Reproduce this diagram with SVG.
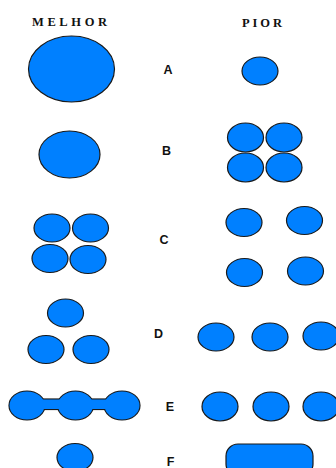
<svg xmlns="http://www.w3.org/2000/svg" width="336" height="468" viewBox="0 0 336 468">
<style>
.s{fill:#0080ff;stroke:#1a1a1a;stroke-width:1.2}
.o{fill:#0080ff;stroke:#1a1a1a;stroke-width:2.2}
.f{fill:#0080ff;stroke:none}
.h{font-family:"Liberation Serif",serif;font-weight:bold;font-size:12.5px;fill:#111}
.l{font-family:"Liberation Sans",Arial,sans-serif;font-weight:bold;font-size:12.5px;fill:#111;text-anchor:middle}
</style>
<rect width="336" height="468" fill="#fff"/>
<g id="headers">
<text class="h" x="32" y="26" textLength="75" lengthAdjust="spacing">MELHOR</text>
<text class="h" x="242" y="27" textLength="40" lengthAdjust="spacing">PIOR</text>
</g>
<g id="labels">
<text class="l" x="168" y="74">A</text>
<text class="l" x="166.5" y="155">B</text>
<text class="l" x="164" y="244">C</text>
<text class="l" x="158.5" y="338">D</text>
<text class="l" x="170" y="411">E</text>
<text class="l" x="170.5" y="466">F</text>
</g>
<g id="rowA">
<ellipse class="s" cx="71.5" cy="69" rx="43" ry="33"/>
<ellipse class="s" cx="260" cy="71" rx="18" ry="14"/>
</g>
<g id="rowB">
<ellipse class="s" cx="69.5" cy="154.5" rx="30.5" ry="23.5"/>
<ellipse class="s" cx="245.5" cy="137.5" rx="18" ry="14.5"/>
<ellipse class="s" cx="284" cy="137.5" rx="18" ry="14.5"/>
<ellipse class="s" cx="245.5" cy="167.5" rx="18" ry="14.5"/>
<ellipse class="s" cx="284" cy="167.5" rx="18" ry="14.5"/>
</g>
<g id="rowC">
<ellipse class="s" cx="52" cy="228" rx="18" ry="14"/>
<ellipse class="s" cx="90.5" cy="228" rx="18" ry="14"/>
<ellipse class="s" cx="50" cy="258.5" rx="18" ry="14"/>
<ellipse class="s" cx="88" cy="259.5" rx="18" ry="14"/>
<ellipse class="s" cx="244" cy="222.5" rx="18" ry="14"/>
<ellipse class="s" cx="304.5" cy="220.5" rx="18" ry="14"/>
<ellipse class="s" cx="244.5" cy="272.5" rx="18" ry="14"/>
<ellipse class="s" cx="305.5" cy="271" rx="18" ry="14"/>
</g>
<g id="rowD">
<ellipse class="s" cx="65.5" cy="313" rx="18" ry="14"/>
<ellipse class="s" cx="46" cy="349.5" rx="18" ry="14"/>
<ellipse class="s" cx="91" cy="349.5" rx="18" ry="14"/>
<ellipse class="s" cx="216" cy="337" rx="18" ry="14"/>
<ellipse class="s" cx="270" cy="337" rx="18" ry="14"/>
<ellipse class="s" cx="321" cy="336" rx="18" ry="14"/>
</g>
<g id="rowE">
<g id="dumbbell">
<ellipse class="o" cx="27" cy="405.5" rx="17.5" ry="14"/>
<ellipse class="o" cx="75.5" cy="405.5" rx="17.5" ry="14"/>
<ellipse class="o" cx="122" cy="405.5" rx="17.5" ry="14"/>
<rect class="o" x="40" y="399.5" width="22" height="9.5"/>
<rect class="o" x="88" y="399.5" width="22" height="9.5"/>
<ellipse class="f" cx="27" cy="405.5" rx="17.5" ry="14"/>
<ellipse class="f" cx="75.5" cy="405.5" rx="17.5" ry="14"/>
<ellipse class="f" cx="122" cy="405.5" rx="17.5" ry="14"/>
<rect class="f" x="40" y="399.5" width="22" height="9.5"/>
<rect class="f" x="88" y="399.5" width="22" height="9.5"/>
</g>
<ellipse class="s" cx="220" cy="406.5" rx="18" ry="14.5"/>
<ellipse class="s" cx="271" cy="406.5" rx="18" ry="14.5"/>
<ellipse class="s" cx="321" cy="406.5" rx="18" ry="14.5"/>
</g>
<g id="rowF">
<ellipse class="s" cx="75" cy="457.5" rx="18" ry="14"/>
<rect class="s" x="226" y="444" width="87" height="32" rx="12"/>
</g>
</svg>
